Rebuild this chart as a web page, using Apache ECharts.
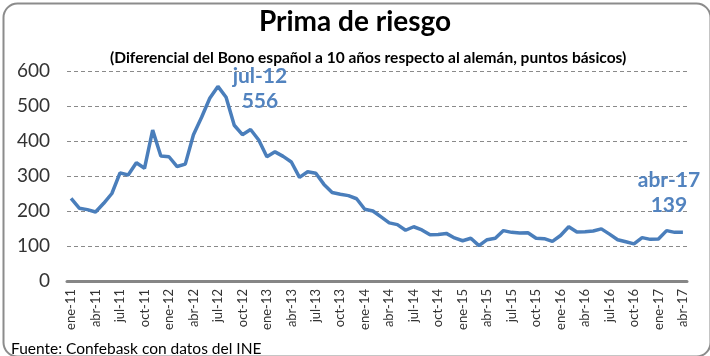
<!DOCTYPE html>
<html>
<head>
<meta charset="utf-8">
<script src="https://cdn.jsdelivr.net/npm/echarts@6/dist/echarts.min.js"></script>
<style>html,body{margin:0;padding:0;background:#fff}#c{width:710px;height:356px}</style>
</head>
<body>
<div id="c"></div>
<script>
var months = ['ene','feb','mar','abr','may','jun','jul','ago','sep','oct','nov','dic'];
var years = ['11','12','13','14','15','16','17'];
var categories = [];
years.forEach(function(y){ months.forEach(function(m){ categories.push(m + '-' + y); }); });
categories = categories.slice(0, 76);

var values = [
  236, 208, 204, 197, 222, 250, 309, 303, 338, 322, 431, 357,
  355, 327, 334, 418, 468, 522, 556, 525, 445, 418, 433, 403,
  355, 369, 356, 340, 296, 312, 308, 276, 253, 248, 244, 235,
  205, 200, 183, 166, 161, 145, 155, 146, 132, 133, 136, 123,
  115, 122, 101, 118, 122, 144, 139, 137, 138, 122, 121, 113,
  130, 155, 140, 141, 143, 149, 134, 118, 112, 106, 124, 119,
  120, 144, 139, 139
];
var yTicks = [0, 100, 200, 300, 400, 500, 600];
var annotated = [18, 75];
var annotOffsets = [[42, 2], [-14, -40]];

var blue = '#4A7EBB';
var txtBlue = '#5283BF';
var font = 'Lato, "Open Sans", sans-serif';

var mpData = annotated.map(function (i, k) {
  return { coord: [categories[i], values[i]], name: categories[i] + '\n' + values[i],
           label: { offset: annotOffsets[k] } };
});

var chart = echarts.init(document.getElementById('c'));
chart.setOption({
  animation: false,
  backgroundColor: '#fff',
  textStyle: { fontFamily: font },
  title: [
    { text: 'Prima de riesgo', left: 'center', top: 3,
      textStyle: { fontFamily: font, fontSize: 28, fontWeight: 'bold', color: '#000' } },
    { text: '(Diferencial del Bono español a 10 años respecto al alemán, puntos básicos)', left: 105, top: 45,
      textStyle: { fontFamily: font, fontSize: 15.5, fontWeight: 'bold', color: '#000' } },
    { text: 'Fuente: Confebask con datos del INE', left: 6, top: 336,
      textStyle: { fontFamily: font, fontSize: 15.5, fontWeight: 'normal', color: '#000' } }
  ],
  graphic: [{
    type: 'rect', left: 1, top: 1, silent: true,
    shape: { width: 707, height: 353, r: 14 },
    style: { fill: 'none', stroke: '#8c8c8c', lineWidth: 2 }
  }],
  grid: { left: 67, right: 23, top: 71, bottom: 75 },
  xAxis: {
    type: 'category',
    data: categories,
    boundaryGap: true,
    axisLine: { lineStyle: { color: '#868686', width: 3 } },
    axisTick: { show: false },
    axisLabel: { interval: 2, rotate: 90, fontSize: 13, color: '#333', fontFamily: font, margin: 8 }
  },
  yAxis: {
    type: 'value',
    min: yTicks[0], max: yTicks[yTicks.length - 1], interval: 100,
    axisLine: { show: false },
    axisTick: { show: false },
    axisLabel: { fontSize: 19, color: '#333', fontFamily: font, margin: 17 },
    splitLine: { lineStyle: { color: '#8a8a8a', type: [4, 3], width: 1 } }
  },
  series: [{
    type: 'line',
    data: values,
    showSymbol: false,
    lineStyle: { color: blue, width: 3.5 },
    itemStyle: { color: blue },
    markPoint: {
      symbol: 'circle', symbolSize: 0,
      data: mpData,
      label: {
        show: true, position: 'inside', align: 'center', verticalAlign: 'middle',
        fontFamily: font, fontSize: 21, fontWeight: 'bold', color: txtBlue, lineHeight: 25,
        formatter: function (p) { return p.name; }
      }
    }
  }]
});
</script>
</body>
</html>
